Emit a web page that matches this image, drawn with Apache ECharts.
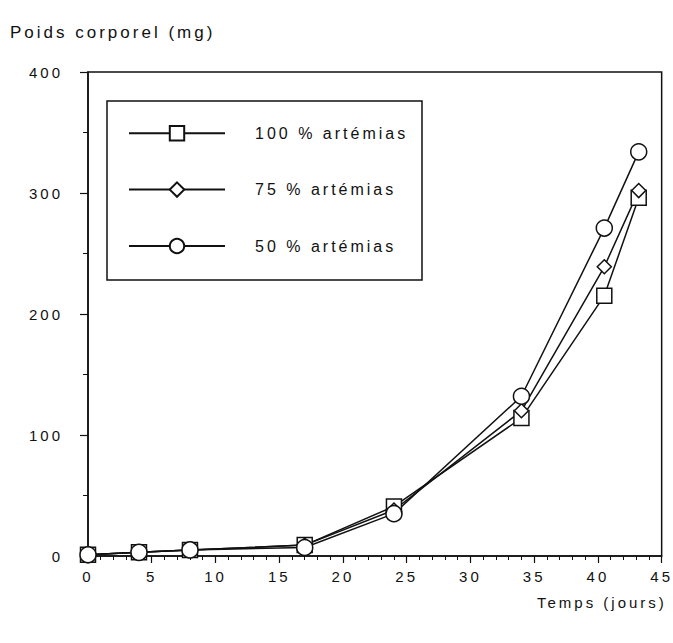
<!DOCTYPE html>
<html>
<head>
<meta charset="utf-8">
<script src="https://cdn.jsdelivr.net/npm/echarts@6/dist/echarts.min.js"></script>
<style>
  html, body { margin: 0; padding: 0; background: #fff; }
  #chart { width: 673px; height: 643px; }
  /* widely tracked lettering, typical of the original typesetting */
  #chart svg text { letter-spacing: 3px; }
</style>
</head>
<body>
<div id="chart"></div>
<script>
// Growth of body weight (mg) over time (days) for three diets
const days = [0, 4, 8, 17, 24, 34, 40.5, 43.2];
const diet100 = [1, 3, 5, 9, 41, 114, 215, 296];
const diet75 = [1, 3, 5, 9, 38, 120, 239, 302];
const diet50 = [1, 3, 5, 7, 35, 132, 271, 334];
const seriesNames = ['100 % artémias', '75 % artémias', '50 % artémias'];
const yTicks = [0, 100, 200, 300, 400];
const xTicks = [0, 5, 10, 15, 20, 25, 30, 35, 40, 45];

const FONT = '"Liberation Sans", Arial, sans-serif';
const INK = '#111';

function pairs(values) {
  return days.map((d, i) => [d, values[i]]);
}

function lineSeries(name, values, symbol, size) {
  return {
    name: name,
    type: 'line',
    data: pairs(values),
    symbol: symbol,
    symbolSize: size,
    showAllSymbol: true,
    lineStyle: { color: INK, width: 1.5 },
    itemStyle: { color: '#fff', borderColor: INK, borderWidth: 1.5 },
    emphasis: { disabled: true },
    z: 3
  };
}

const chart = echarts.init(document.getElementById('chart'), null, { renderer: 'svg' });

chart.setOption({
  animation: false,
  backgroundColor: '#fff',
  grid: {
    left: 88, right: 11, top: 72, bottom: 87,
    show: true, borderColor: INK, borderWidth: 1.5, backgroundColor: 'transparent'
  },
  xAxis: {
    type: 'value',
    min: xTicks[0], max: xTicks[xTicks.length - 1], interval: 5,
    axisLine: { lineStyle: { color: INK, width: 1.5 } },
    axisTick: { show: true, length: 7, lineStyle: { color: INK, width: 1.2 } },
    minorTick: { show: true, splitNumber: 5, length: 4, lineStyle: { color: INK, width: 1 } },
    splitLine: { show: false },
    axisLabel: { color: INK, fontFamily: FONT, fontSize: 15, margin: 13 }
  },
  yAxis: {
    type: 'value',
    min: yTicks[0], max: yTicks[yTicks.length - 1], interval: 100,
    axisLine: { lineStyle: { color: INK, width: 1.5 } },
    axisTick: { show: true, length: 8, lineStyle: { color: INK, width: 1.2 } },
    minorTick: { show: true, splitNumber: 2, length: 5, lineStyle: { color: INK, width: 1 } },
    splitLine: { show: false },
    axisLabel: { color: INK, fontFamily: FONT, fontSize: 15, margin: 25 }
  },
  legend: {
    orient: 'vertical',
    left: 123, top: 120,
    itemWidth: 96, itemHeight: 18, itemGap: 40,
    data: seriesNames,
    textStyle: { color: INK, fontFamily: FONT, fontSize: 16, padding: [0, 0, 0, 25] },
    selectedMode: false
  },
  graphic: [
    {
      type: 'rect',
      shape: { x: 107, y: 101, width: 315, height: 179 },
      style: { fill: 'transparent', stroke: INK, lineWidth: 1.5 },
      silent: true
    },
    {
      type: 'text', left: 10, top: 24,
      style: { text: 'Poids corporel (mg)', font: '17px ' + FONT, fill: INK }
    },
    {
      type: 'text', left: 537, top: 595,
      style: { text: 'Temps (jours)', font: '15px ' + FONT, fill: INK }
    }
  ],
  series: [
    lineSeries(seriesNames[0], diet100, 'rect', 15),
    lineSeries(seriesNames[1], diet75, 'diamond', 14),
    lineSeries(seriesNames[2], diet50, 'circle', 16)
  ]
});
</script>
</body>
</html>
